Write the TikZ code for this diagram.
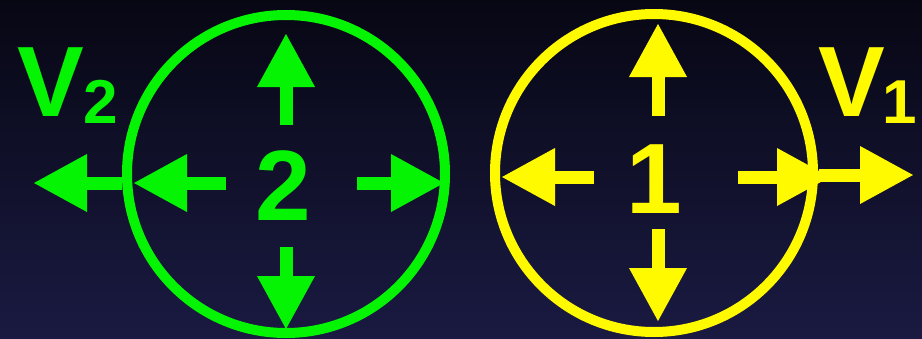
\documentclass[tikz,border=0pt]{standalone}
\usepackage{fontspec}
\setmainfont{Liberation Sans}
\usetikzlibrary{calc}
\usetikzlibrary{arrows.meta}
\definecolor{grn}{RGB}{4,244,4}
\definecolor{yel}{RGB}{255,250,0}
\definecolor{bgtop}{RGB}{7,7,20}
\definecolor{bgmid}{RGB}{14,14,38}
\definecolor{bgbot}{RGB}{26,26,66}

\begin{document}
\begin{tikzpicture}[x=1pt,y=-1pt,
  ring/.style={circle,draw,line width=10pt,minimum size=318pt,inner sep=0pt},
  arr/.style={line width=13pt,-{Triangle[length=54pt,width=54pt]}},
  big/.style={inner sep=0pt,anchor=base,font=\fontsize{100}{100}\selectfont\bfseries},
  vlab/.style={inner sep=0pt,anchor=base west,font=\fontsize{100}{100}\selectfont\bfseries}]
\shade[top color=bgtop,middle color=bgmid,bottom color=bgbot] (0,0) rectangle (922,338);
\useasboundingbox (0,0) rectangle (922,338);
\clip (0,0) rectangle (922,338);
\node[ring,grn] (c2) at (286,174) {};
\node[ring,yel] (c1) at (654,173) {};
\node[big,grn] (n2) at (283,220) {2};
\node[big,yel] (n1) at (654,213) {1};
\node[vlab,grn] (v2) at (17,116) {V\raisebox{-7pt}{\fontsize{62}{62}\selectfont 2}};
\node[vlab,yel] (v1) at (818,116) {V\kern-2pt\raisebox{-7pt}{\fontsize{62}{62}\selectfont 1}};

\begin{scope}[grn]
\draw[arr] ($(c2)+(0,-49)$) -- ($(c2)+(0,-141)$);
\draw[arr] ($(c2)+(0,73)$) -- ($(c2)+(0,156)$);
\draw[arr] ($(c2)+(-60,9)$) -- ($(c2)+(-153,9)$);
\draw[arr] ($(c2)+(71,9)$) -- ($(c2)+(159,9)$);
\draw[arr] ($(c2)+(-164,9)$) -- ++(-89,0);
\end{scope}
\begin{scope}[yel]
\draw[arr] ($(c1)+(4,-57)$) -- ($(c1)+(4,-150)$);
\draw[arr] ($(c1)+(4,56)$) -- ($(c1)+(4,149)$);
\draw[arr] ($(c1)+(-60,4)$) -- ($(c1)+(-153,4)$);
\draw[arr] ($(c1)+(84,4)$) -- ($(c1)+(177,4)$);
\draw[arr] ($(c1)+(165,2)$) -- ($(c1)+(260,2)$);
\end{scope}
\end{tikzpicture}
\end{document}
